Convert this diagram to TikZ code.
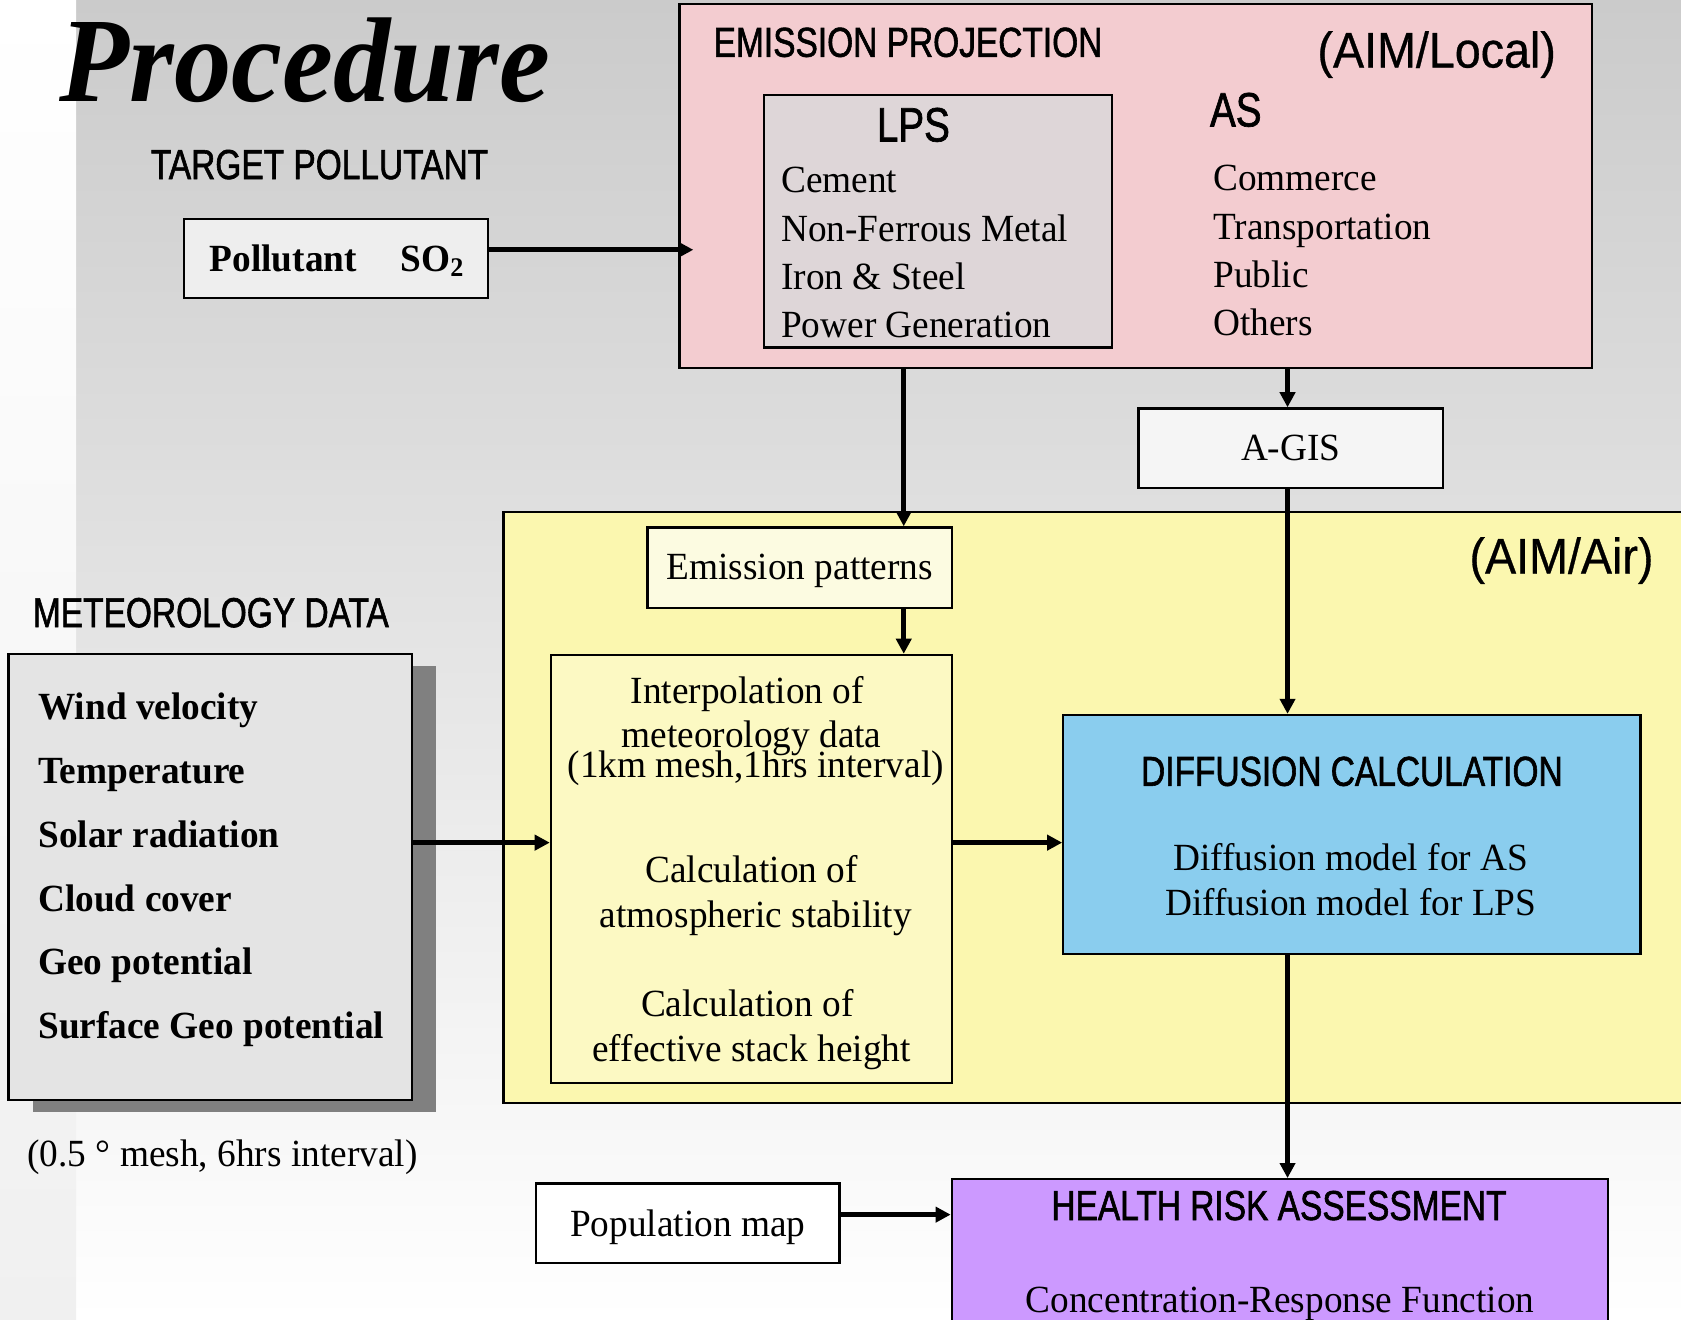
\documentclass[tikz,border=0pt]{standalone}
\usepackage{fontspec}
\setmainfont{Liberation Serif}[FakeStretch=0.97]
\newfontfamily\condsans[FakeStretch=0.8,FakeBold=1.4]{Liberation Sans}
\newfontfamily\aimsans[FakeStretch=0.93,FakeBold=0.6]{Liberation Sans}
\newfontfamily\titleserif[FakeStretch=0.95]{Liberation Serif}
\usetikzlibrary{arrows.meta,positioning,shadows}

\definecolor{bgtop}{RGB}{203,203,203}
\definecolor{stripmid}{RGB}{201,201,201}
\definecolor{striplow}{RGB}{240,240,240}
\definecolor{emispink}{RGB}{243,204,208}
\definecolor{lpsgray}{RGB}{222,214,216}
\definecolor{airyellow}{RGB}{251,247,175}
\definecolor{patyellow}{RGB}{252,251,225}
\definecolor{intyellow}{RGB}{252,249,195}
\definecolor{diffblue}{RGB}{138,205,238}
\definecolor{healthlilac}{RGB}{204,153,255}
\definecolor{metgray}{RGB}{228,228,228}
\definecolor{boxgray}{RGB}{238,238,238}
\definecolor{shadowgray}{RGB}{128,128,128}

\begin{document}
\begin{tikzpicture}[x=0.01cm,y=-0.01cm,>={Triangle[length=4pt,width=4pt]},
  box/.style={draw,line width=0.6pt,inner sep=0pt},
  arr/.style={->,line width=1.3pt},
  txt/.style={inner sep=0pt,anchor=base},
  serif/.style={txt,font=\fontsize{10.2}{12}\selectfont},
  bserif/.style={txt,font=\bfseries\fontsize{10.2}{12}\selectfont},
  cond/.style={txt,font=\condsans\fontsize{11.1}{13}\selectfont},
  bigcond/.style={txt,font=\condsans\fontsize{12.8}{15}\selectfont},
  aim/.style={txt,font=\aimsans\fontsize{13.3}{16}\selectfont}]
  \clip (0,0) rectangle (1568,1231);
  % background
  \shade[top color=bgtop,bottom color=white] (0,0) rectangle (1568,1231);
  \shade[top color=white,middle color=stripmid,bottom color=striplow] (0,0) rectangle (71,1231);

  \node[txt,anchor=base west,font=\titleserif\bfseries\itshape\fontsize{32}{36}\selectfont] (title) at (55,95) {Procedure};

  % target pollutant
  \node[cond,anchor=base west] (tplab) at (140,167) {TARGET POLLUTANT};
  \node[box,fill=boxgray,minimum width=2.83cm,minimum height=0.74cm] (poll) at (313.5,241) {};
  \node[bserif,anchor=base west] (polltxt) at (195,253) {Pollutant};
  \node[bserif,anchor=base west] (so2) at (373,253) {SO\textsubscript{2}};

  % emission projection
  \node[box,fill=emispink,minimum width=8.51cm,minimum height=3.39cm] (emis) at (1059.5,173.5) {};
  \node[cond,anchor=base west] (emislab) at (665,53) {EMISSION PROJECTION};
  \node[aim,anchor=base east] (aimlocal) at (1452,63) {(AIM/Local)};
  \node[box,fill=lpsgray,minimum width=3.24cm,minimum height=2.35cm] (lps) at (875,206.5) {};
  \node[bigcond] (lpslab) at (852,132) {LPS};
  \foreach \t [count=\i] in {Cement,Non-Ferrous Metal,Iron \& Steel,Power Generation}
    \node[serif,anchor=base west] (lps\i) at (728,135+45*\i) {\t};
  \node[bigcond,anchor=base west] (aslab) at (1128,118) {AS};
  \foreach \t [count=\i] in {Commerce,Transportation,Public,Others}
    \node[serif,anchor=base west] (as\i) at (1131,133+45*\i) {\t};

  \node[box,fill=boxgray!60!white,minimum width=2.84cm,minimum height=0.74cm] (agis) at (1204,418) {};
  \node[serif] (agistxt) at (1204,430) {A-GIS};

  % AIM/Air
  \node[box,fill=airyellow,minimum width=11.5cm,minimum height=5.51cm] (air) at (1045,753.5) {};
  \node[aim,anchor=base east] (aimair) at (1543,535) {(AIM/Air)};
  \node[box,fill=patyellow,minimum width=2.84cm,minimum height=0.75cm] (epat) at (746,529.5) {};
  \node[serif] (epattxt) at (746,541) {Emission patterns};
  \node[box,fill=intyellow,minimum width=3.74cm,minimum height=3.99cm] (interp) at (701,810.5) {};
  \node[serif] (in1) at (697,656) {Interpolation of};
  \node[serif] (in2) at (701,697) {meteorology data};
  \node[serif] (in3) at (705,725) {(1km mesh,1hrs interval)};
  \node[serif] (in4) at (701,823) {Calculation of};
  \node[serif] (in5) at (705,865) {atmospheric stability};
  \node[serif] (in6) at (697,948) {Calculation of};
  \node[serif] (in7) at (701,990) {effective stack height};

  \node[box,fill=diffblue,minimum width=5.38cm,minimum height=2.23cm] (diff) at (1261,778.5) {};
  \node[cond] (difflab) at (1261,733) {DIFFUSION CALCULATION};
  \node[serif] (diff1) at (1260,812) {Diffusion model for AS};
  \node[serif] (diff2) at (1260,854) {Diffusion model for LPS};

  % meteorology
  \node[cond,anchor=base west] (metlab) at (30,585) {METEOROLOGY DATA};
  \node[box,fill=metgray,minimum width=3.76cm,minimum height=4.16cm,
    drop shadow={shadow xshift=0.23cm,shadow yshift=-0.11cm,fill=shadowgray,fill opacity=1}] (met) at (196,818) {};
  \foreach \t [count=\i] in {Wind velocity,Temperature,Solar radiation,Cloud cover,Geo potential,Surface Geo potential}
    \node[bserif,anchor=base west] (met\i) at (35,611.4+59.6*\i) {\t};
  \node[serif,anchor=base west] (metnote) at (25,1088) {(0.5 ° mesh, 6hrs interval)};

  % health risk
  \node[box,fill=white,minimum width=2.83cm,minimum height=0.74cm] (pop) at (641.5,1141) {};
  \node[serif] (poptxt) at (641.5,1153) {Population map};
  \node[box,fill=healthlilac,minimum width=6.12cm,minimum height=1.6cm] (health) at (1194,1180) {};
  \node[cond] (healthlab) at (1193,1138) {HEALTH RISK ASSESSMENT};
  \node[serif] (crf) at (1194,1224) {Concentration-Response Function};

  % connectors
  \coordinate (lpsline) at (843,0);
  \coordinate (asline) at (1201,0);
  \coordinate (metline) at (0,786);
  \draw[arr,shorten >=-0.14cm] ([yshift=0.08cm]poll.east) -- ([yshift=0.08cm]poll.east -| emis.west);
  \draw[arr] (emis.south -| lpsline) -- (epat.north -| lpsline);
  \draw[arr] (epat.south -| lpsline) -- (interp.north -| lpsline);
  \draw[arr] (emis.south -| asline) -- (agis.north -| asline);
  \draw[arr] (agis.south -| asline) -- (diff.north -| asline);
  \draw[arr] (met.east |- metline) -- (interp.west |- metline);
  \draw[arr] (interp.east |- metline) -- (diff.west |- metline);
  \draw[arr] (diff.south -| asline) -- (health.north -| asline);
  \draw[arr] ([yshift=0.08cm]pop.east) -- ([yshift=0.08cm]pop.east -| health.west);
\end{tikzpicture}
\end{document}
